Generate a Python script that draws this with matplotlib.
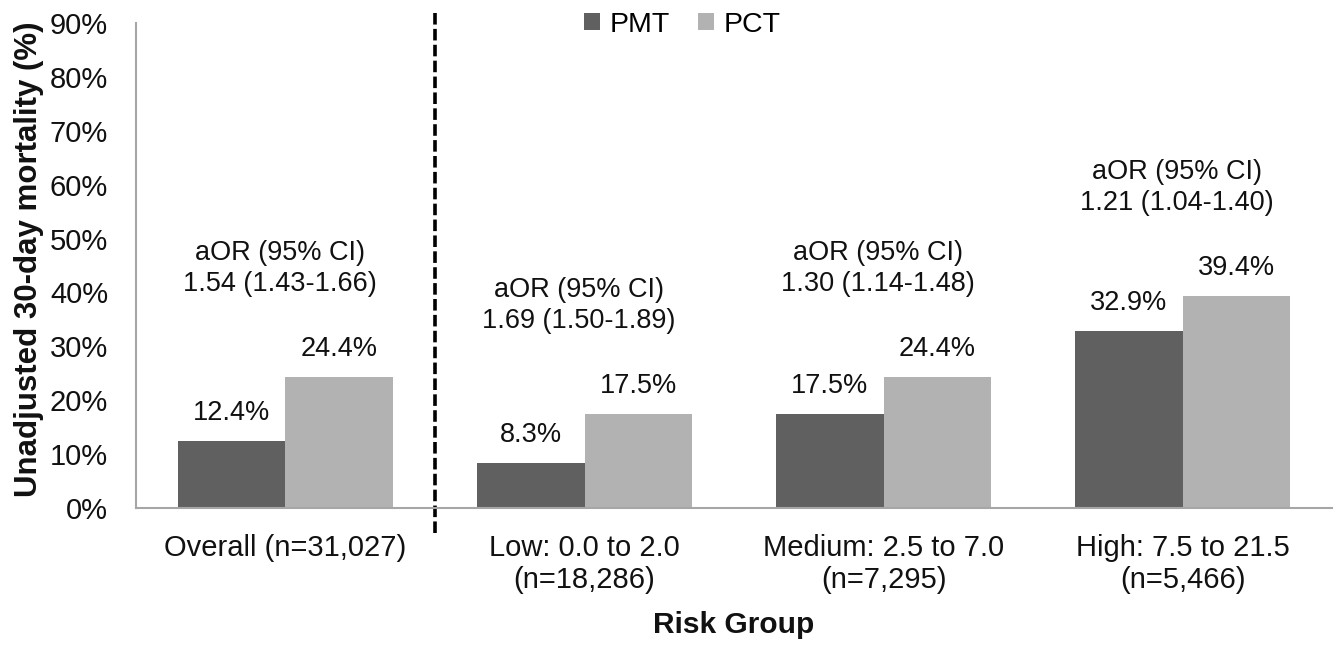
import numpy as np
import matplotlib.pyplot as plt
from matplotlib.ticker import FuncFormatter

plt.rcParams['font.family'] = ['Liberation Sans', 'DejaVu Sans']

# data
groups = ['Overall (n=31,027)', 'Low: 0.0 to 2.0\n(n=18,286)',
          'Medium: 2.5 to 7.0\n(n=7,295)', 'High: 7.5 to 21.5\n(n=5,466)']
pmt = [12.4, 8.3, 17.5, 32.9]
pct = [24.4, 17.5, 24.4, 39.4]
aor = ['1.54 (1.43-1.66)', '1.69 (1.50-1.89)', '1.30 (1.14-1.48)', '1.21 (1.04-1.40)']

dark = '#606060'
light = '#b2b2b2'

fig = plt.figure(figsize=(13.37, 6.45), dpi=100)
ax = fig.add_axes([0.1017, 0.2124, 0.8946, 0.7519])

x = np.arange(len(groups))
w = 0.36
b1 = ax.bar(x - w/2, pmt, w, color=dark, label='PMT')
b2 = ax.bar(x + w/2, pct, w, color=light, label='PCT')

# value labels over bars
for bars, vals in ((b1, pmt), (b2, pct)):
    for r, v in zip(bars, vals):
        ax.annotate(f'{v}%', (r.get_x() + r.get_width()/2, v), xytext=(0, 15),
                    textcoords='offset points', ha='center', va='baseline',
                    fontsize=19.5, color='#111111')

# odds ratio notes
for i in range(len(groups)):
    ax.text(x[i] - 0.02, pct[i] + 20, 'aOR (95% CI)\n' + aor[i], ha='center',
            va='center', fontsize=19.5, linespacing=1.25, color='#111111')

ax.set_xlim(-0.5, 3.5)
ax.set_ylim(0, 90)
ax.set_yticks(range(0, 91, 10))
ax.yaxis.set_major_formatter(FuncFormatter(lambda v, p: f'{v:.0f}%'))
ax.set_xticks(x)
ax.set_xticklabels(groups, linespacing=1.17)
ax.tick_params(axis='both', length=0, labelsize=21, labelcolor='#111111')
ax.tick_params(axis='y', pad=20)
ax.tick_params(axis='x', pad=19)

for s in ['top', 'right']:
    ax.spines[s].set_visible(False)
for s in ['left', 'bottom']:
    ax.spines[s].set_color('#a6a6a6')
    ax.spines[s].set_linewidth(1.5)

# dashed separator between overall and risk groups
ax.axvline(0.5, ymin=-0.052, ymax=1.023, color='black', lw=2.6,
           linestyle=(0, (3.2, 1.2)), clip_on=False)

ax.legend(loc='center', bbox_to_anchor=(0.457, 0.996), ncol=2, frameon=False,
          fontsize=20.5, handlelength=0.55, handleheight=0.55, handletextpad=0.35,
          columnspacing=1.0)

fig.text(29/1337, 0.598, 'Unadjusted 30-day mortality (%)', rotation=90,
         ha='center', va='center', fontsize=22.5, fontweight='bold', color='#111111')
fig.text(734/1337, 20/645, 'Risk Group', ha='center', va='center',
         fontsize=21.5, fontweight='bold', color='#111111')

fig.savefig('out.png', dpi=100)
